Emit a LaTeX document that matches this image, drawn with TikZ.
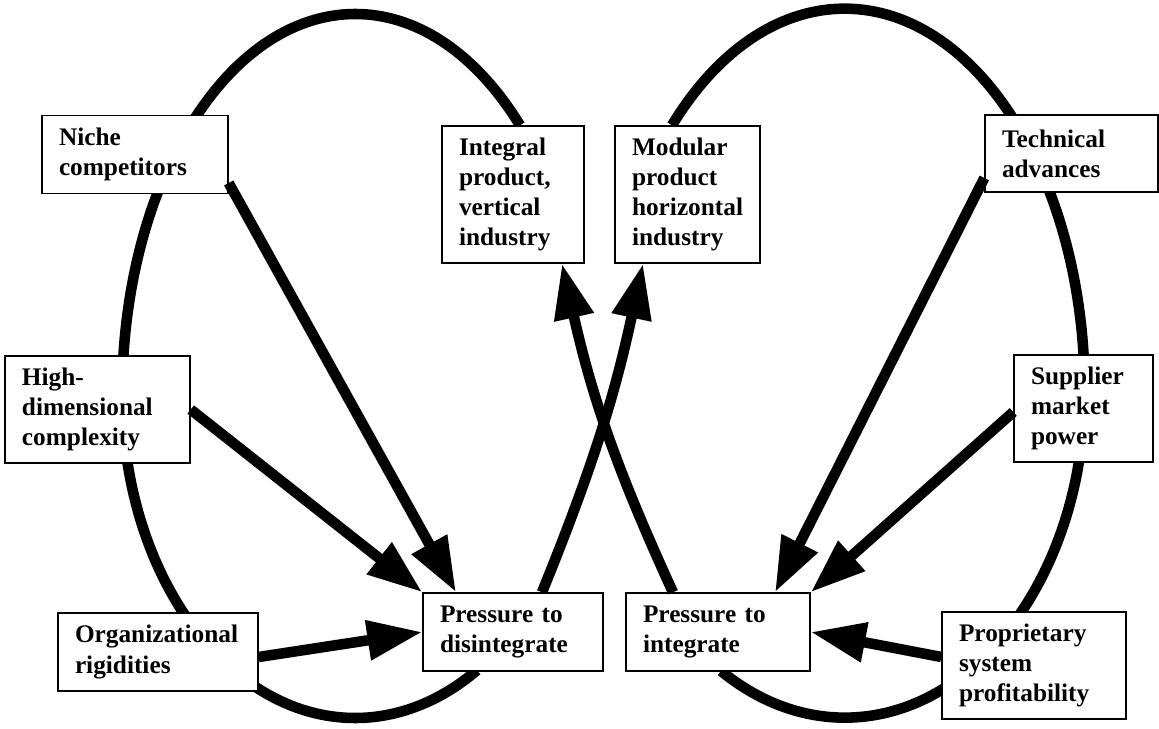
\documentclass[tikz,border=0pt]{standalone}
\usepackage{fontspec}
\setmainfont{Liberation Serif}
\usepackage{tikz}
\usetikzlibrary{shapes, arrows.meta, positioning, backgrounds}

\begin{document}
\begin{tikzpicture}[
            box/.style={draw, rectangle, fill=white, line width=0.8pt, inner xsep=0.34cm, inner ysep=0.1cm, align=left, font=\bfseries\fontsize{14.4}{17.1}\selectfont},
            arr/.style={line width=6pt, -{Triangle[length=1.1cm, width=0.76cm]}},
            loopline/.style={line width=6pt}]
            \useasboundingbox (0,0) rectangle (23.18,14.58);

            \node[box, text width=3.04cm, minimum height=1.55cm] (niche) at (2.70,11.49) {Niche\\competitors};
            \node[box, text width=3.02cm, minimum height=2.14cm] (high) at (1.95,6.39) {High-\\dimensional\\complexity};
            \node[box, text width=3.32cm, minimum height=1.56cm] (org) at (3.16,1.54) {Organizational\\rigidities};
            \node[box, text width=2.16cm, minimum height=2.74cm] (integral) at (10.26,10.69) {Integral\\product,\\vertical\\industry};
            \node[box, text width=2.22cm, minimum height=2.74cm] (modular) at (13.75,10.69) {Modular\\product\\horizontal\\industry};
            \node[box, text width=2.78cm, minimum height=1.54cm] (tech) at (21.43,11.51) {Technical\\advances};
            \node[box, text width=2.10cm, minimum height=2.14cm] (supplier) at (21.67,6.41) {Supplier\\market\\power};
            \node[box, text width=2.92cm, minimum height=1.56cm] (pdis) at (10.26,1.94) {Pressure to\\disintegrate};
            \node[box, text width=3.00cm, minimum height=1.56cm] (pint) at (14.36,1.94) {Pressure to\\integrate};
            \node[box, text width=3.00cm, minimum height=2.14cm] (prop) at (20.68,1.27) {Proprietary\\system\\profitability};

            % the two big loops run behind the boxes
            \begin{scope}[on background layer]
            \draw[loopline] ([xshift=0.14cm]integral.north) arc[start angle=45, end angle=180, x radius=4.66cm, y radius=7.6cm]
                arc[start angle=180, end angle=301.5, x radius=4.66cm, y radius=6.48cm];
            \draw[loopline] ([xshift=-0.31cm]modular.north) arc[start angle=136, end angle=0, x radius=4.8cm, y radius=7.64cm]
                arc[start angle=0, end angle=-121, x radius=4.8cm, y radius=6.54cm];
            \end{scope}

            \draw[arr] ([yshift=-0.57cm]niche.east) -- ([xshift=-1.14cm]pdis.north);
            \draw[arr] (high.east) -- (pdis.north west);
            \draw[arr] ([yshift=-0.1cm]org.east) -- (pdis.west);
            \draw[arr] ([xshift=0.58cm]pdis.north) to[bend right=5] ([xshift=-0.89cm]modular.south);
            \draw[arr] ([xshift=-0.90cm]pint.north) to[bend left=6] ([xshift=0.98cm]integral.south);
            \draw[arr] ([yshift=-0.49cm]tech.west) -- ([xshift=1.14cm]pint.north);
            \draw[arr] ([yshift=-0.07cm]supplier.west) -- (pint.north east);
            \draw[arr] ([yshift=0.17cm]prop.west) -- (pint.east);
        \end{tikzpicture}
\end{document}
